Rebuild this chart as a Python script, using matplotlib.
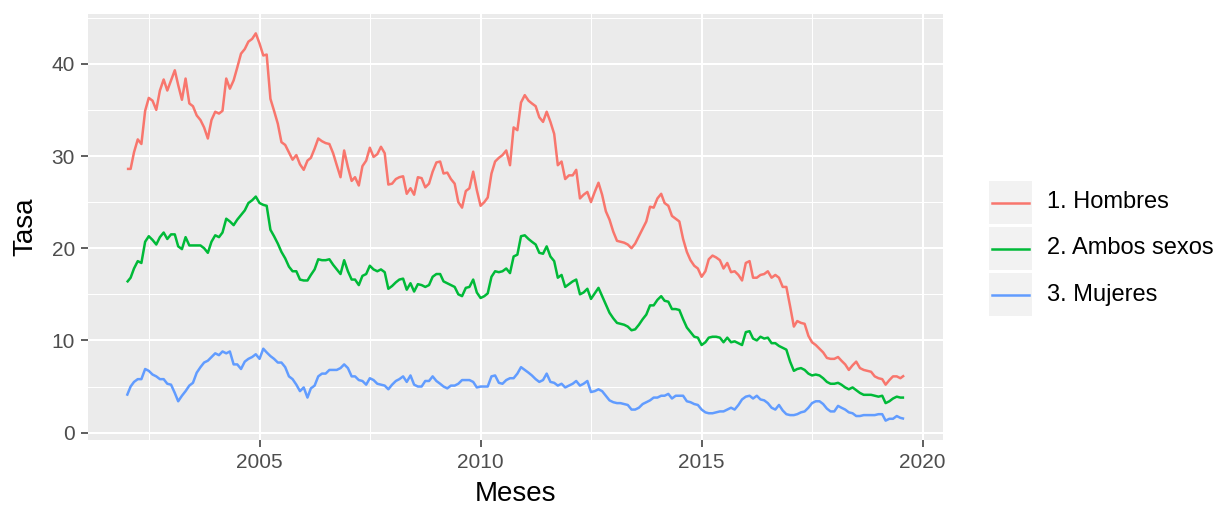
import matplotlib
matplotlib.use("Agg")
import matplotlib.pyplot as plt
import matplotlib.dates as mdates
import pandas as pd
from matplotlib.patches import Rectangle
from matplotlib.lines import Line2D

# ---------------- data ----------------
start_month = "2002-01-01"

hombres = [
    28.6, 28.6, 30.4, 31.8, 31.3, 34.9, 36.3, 36.0, 35.0, 37.1,
    38.3, 37.1, 38.2, 39.3, 37.7, 36.1, 38.4, 35.7, 35.4, 34.4,
    33.9, 33.1, 31.9, 33.9, 34.8, 34.6, 34.9, 38.4, 37.3, 38.2,
    39.6, 41.1, 41.6, 42.4, 42.7, 43.3, 42.2, 40.9, 41.0, 36.2,
    34.9, 33.5, 31.5, 31.2, 30.4, 29.6, 30.1, 29.1, 28.5, 29.5,
    29.8, 30.8, 31.9,
    31.6, 31.4, 31.3, 30.3, 29.0, 27.7, 30.6, 28.8, 27.3, 27.7,
    26.8, 28.9, 29.5, 30.9, 29.9, 30.2, 31.0, 30.3, 26.9, 27.0,
    27.5, 27.7, 27.8, 25.9, 26.5, 25.8, 27.7, 27.6, 26.6, 27.0,
    28.3, 29.3, 29.4, 28.1, 28.2, 27.5, 27.0, 25.0, 24.4, 26.2,
    26.5, 28.3, 26.3, 24.6, 25.0, 25.5, 28.1, 29.4,
    29.8, 30.1, 30.6, 29.0, 33.1, 32.8, 35.8, 36.6, 36.0, 35.7,
    35.4, 34.2, 33.7, 34.8, 33.7, 32.4, 29.0, 29.4, 27.5, 27.9,
    27.9, 28.5, 25.4, 25.8, 26.1, 25.0, 26.1, 27.1, 25.8, 24.0,
    23.1, 21.8, 20.8, 20.7, 20.6, 20.4, 20.0, 20.5, 21.3, 22.1,
    22.9, 24.5, 24.4, 25.4, 25.9, 24.9, 24.6, 23.5, 23.2, 22.9,
    21.0, 19.6, 18.7, 18.1, 17.8, 16.9, 17.5, 18.8, 19.2, 19.0,
    18.7, 17.8, 18.4, 17.4, 17.5, 17.1, 16.5, 18.4, 18.6, 16.8,
    16.8, 17.1, 17.2, 17.5, 16.8, 17.1, 16.8, 15.8, 15.8, 13.7,
    11.5, 12.1, 11.9, 11.8, 10.5, 9.8, 9.5, 9.1, 8.7, 8.1,
    8.0, 8.0, 8.2, 7.8, 7.4, 6.8, 7.3, 7.7, 7.0, 6.8,
    6.7, 6.6, 6.1, 5.9, 5.8, 5.2, 5.7, 6.1, 6.1, 5.9, 6.2,
]

ambos = [
    16.3, 16.8, 17.8, 18.6, 18.4, 20.7, 21.3, 20.9, 20.4, 21.2,
    21.7, 21.0, 21.5, 21.5, 20.2, 19.9, 21.2, 20.3, 20.3, 20.3,
    20.3, 20.0, 19.5, 20.7, 21.4, 21.2, 21.7, 23.2, 22.9, 22.5,
    23.1, 23.6, 24.1, 24.9, 25.2, 25.6, 24.9, 24.7, 24.6, 22.0,
    21.3, 20.5, 19.6, 18.9, 18.0, 17.5, 17.5, 16.6, 16.5, 16.5,
    17.1, 17.7, 18.8,
    18.7, 18.7, 18.8, 18.2, 17.7, 17.2, 18.7, 17.5, 16.6, 16.6,
    16.0, 17.0, 17.2, 18.1, 17.7, 17.5, 17.7, 17.4, 15.6, 15.9,
    16.3, 16.6, 16.7, 15.5, 16.2, 15.3, 16.1, 16.0, 15.8, 16.0,
    16.9, 17.2, 17.2, 16.4, 16.2, 16.0, 15.8, 15.0, 14.8, 15.7,
    15.8, 16.6, 15.2, 14.6, 14.8, 15.1, 16.9, 17.5,
    17.4, 17.5, 17.8, 17.3, 19.1, 19.3, 21.3, 21.4, 21.0, 20.7,
    20.4, 19.5, 19.4, 20.2, 19.1, 18.6, 16.8, 17.1, 15.8, 16.1,
    16.4, 16.6, 15.0, 15.2, 15.6, 14.5, 15.1, 15.7, 14.8, 13.9,
    13.0, 12.4, 11.9, 11.8, 11.7, 11.5, 11.1, 11.2, 11.7, 12.3,
    12.8, 13.8, 13.8, 14.4, 14.8, 14.3, 14.2, 13.4, 13.4, 13.3,
    12.3, 11.4, 10.9, 10.4, 10.3, 9.5, 9.8, 10.3, 10.4, 10.4,
    10.3, 9.8, 10.3, 9.8, 9.9, 9.7, 9.5, 10.9, 11.0, 10.2,
    10.0, 10.4, 10.2, 10.3, 9.7, 9.7, 9.4, 9.2, 9.0,
    7.7, 6.7, 6.9, 7.0, 6.8, 6.4, 6.2, 6.3, 6.2, 5.9,
    5.5, 5.3, 5.3, 5.4, 5.2, 4.9, 4.7, 4.9, 4.6, 4.3,
    4.1, 4.1, 4.1, 4.0, 3.9, 4.0, 3.2, 3.4, 3.7, 3.9, 3.8, 3.8,
]

mujeres = [
    4.0, 5.0, 5.5, 5.8, 5.8, 6.9, 6.7, 6.3, 6.1, 5.8,
    5.8, 5.3, 5.2, 4.3, 3.4, 4.0, 4.5, 5.1, 5.4, 6.5,
    7.1, 7.6, 7.8, 8.2, 8.6, 8.4, 8.8, 8.6, 8.8, 7.4,
    7.4, 6.9, 7.7, 8.0, 8.2, 8.5, 8.0, 9.1, 8.7, 8.3,
    8.0, 7.6, 7.6, 7.1, 6.1, 5.8, 5.2, 4.5, 4.9, 3.8,
    4.8, 5.1, 6.1,
    6.4, 6.4, 6.8, 6.8, 6.8, 7.0, 7.4, 7.0, 6.1, 6.1,
    5.7, 5.6, 5.2, 5.9, 5.7, 5.3, 5.2, 5.1, 4.7, 5.2,
    5.6, 5.8, 6.1, 5.5, 6.2, 5.2, 5.0, 5.0, 5.6, 5.6,
    6.1, 5.6, 5.3, 5.0, 4.8, 5.1, 5.1, 5.3, 5.7, 5.7,
    5.7, 5.5, 4.9, 5.0, 5.0, 5.0, 6.1, 6.2,
    5.4, 5.3, 5.7, 5.9, 5.9, 6.4, 7.1, 6.8, 6.5, 6.2,
    5.8, 5.5, 5.7, 6.4, 5.5, 5.4, 5.1, 5.3, 4.9, 5.1,
    5.3, 5.6, 5.1, 5.3, 5.6, 4.4, 4.5, 4.7, 4.5, 4.0,
    3.5, 3.3, 3.2, 3.2, 3.1, 3.0, 2.5, 2.5, 2.7, 3.1,
    3.3, 3.5, 3.8, 3.8, 4.0, 4.0, 4.2, 3.7, 4.0, 4.0,
    4.0, 3.4, 3.3, 3.1, 3.0, 2.5, 2.2, 2.1,
    2.1, 2.2, 2.3, 2.3, 2.5, 2.7, 2.5, 3.0, 3.6, 3.9,
    4.0, 3.7, 4.0, 3.6, 3.5, 3.2, 2.7, 2.5, 3.0, 2.4,
    2.0, 1.9, 1.9, 2.0, 2.2, 2.3, 2.7, 3.2, 3.4, 3.4,
    3.1, 2.6, 2.3, 2.3, 2.9, 2.7, 2.5, 2.2, 2.1, 1.8,
    1.8, 1.9, 1.9, 1.9, 1.9, 2.0, 2.0, 1.3, 1.5, 1.5,
    1.8, 1.6, 1.5,
]

series_labels = ["1. Hombres", "2. Ambos sexos", "3. Mujeres"]
series_colors = ["#F8766D", "#00BA38", "#619CFF"]
x_tick_years = [2000, 2005, 2010, 2015, 2020]
y_ticks = [0, 10, 20, 30, 40]
x_title = "Meses"
y_title = "Tasa"

# ---------------- figure ----------------
plt.rcParams['font.family'] = ['Liberation Sans', 'DejaVu Sans']

W, H = 1219, 508
fig = plt.figure(figsize=(W / 100, H / 100), dpi=100)

def fx(px):
    return px / W

def fy(py):
    return 1 - py / H

pl, pr, pt, pb = 88, 943, 14, 440
ax = fig.add_axes([fx(pl), fy(pb), fx(pr - pl), (pb - pt) / H])
ax.set_facecolor('#EBEBEB')
for s in ax.spines.values():
    s.set_visible(False)

all_series = [hombres, ambos, mujeres]
n = min(len(s) for s in all_series)
fechas = pd.date_range(start_month, periods=n, freq="MS")
xnum = mdates.date2num(fechas)

for vals, lab, col in zip(all_series, series_labels, series_colors):
    ax.plot(xnum, vals[:n], color=col, lw=1.8, label=lab,
            solid_joinstyle='round', solid_capstyle='butt', zorder=3)

# ticks
maj = [mdates.date2num(pd.Timestamp(f"{y}-01-01")) for y in x_tick_years]
ax.set_xticks(maj)
ax.set_xticklabels([str(y) for y in x_tick_years])
ax.set_xticks([(a + b) / 2 for a, b in zip(maj[:-1], maj[1:])], minor=True)
ax.set_yticks(y_ticks)
ax.set_yticklabels([str(v) for v in y_ticks])
ax.set_yticks([(a + b) / 2 for a, b in zip(y_ticks[:-1], y_ticks[1:])] + [y_ticks[-1] + 5],
              minor=True)

# limits with ggplot-like 5% expansion
x0, x1 = xnum[0], xnum[-1]
sx = x1 - x0
ax.set_xlim(x0 - 0.05 * sx, x1 + 0.05 * sx)
ymin = min(min(s) for s in all_series)
ymax = max(max(s) for s in all_series)
sy = ymax - ymin
ax.set_ylim(ymin - 0.05 * sy, ymax + 0.05 * sy)

ax.grid(which='major', color='white', lw=1.5, zorder=1)
ax.grid(which='minor', color='white', lw=0.75, zorder=1)
ax.set_axisbelow(True)
ax.tick_params(which='major', length=5, width=1.1, color='#333333',
               labelcolor='#4D4D4D', labelsize=15, pad=4.5)
ax.tick_params(which='minor', length=0)

ax.set_xlabel(x_title, fontsize=20, color='black')
ax.set_ylabel(y_title, fontsize=20, color='black')
ax.xaxis.set_label_coords(0.5, (pb - 494) / (pb - pt))
ax.xaxis.label.set_va('center')
ax.yaxis.set_label_coords((25 - pl) / (pr - pl), 0.5)
ax.yaxis.label.set_va('center')

# ---------------- legend (ggplot style) ----------------
key_l, key_w, key_h, gap = 989, 43, 43, 3
top0 = 181
for i, (lab, col) in enumerate(zip(series_labels, series_colors)):
    top = top0 + i * (key_h + gap)
    fig.add_artist(Rectangle((fx(key_l), fy(top + key_h)), key_w / W, key_h / H,
                             transform=fig.transFigure, facecolor='#F2F2F2',
                             edgecolor='none'))
    yc = fy(top + key_h / 2)
    fig.add_artist(Line2D([fx(key_l + 3), fx(key_l + key_w - 3)], [yc, yc],
                          transform=fig.transFigure, color=col, lw=1.8))
    fig.text(fx(1047), yc, lab, fontsize=17, color='black', va='center', ha='left')

fig.savefig("out.png", dpi=100)
